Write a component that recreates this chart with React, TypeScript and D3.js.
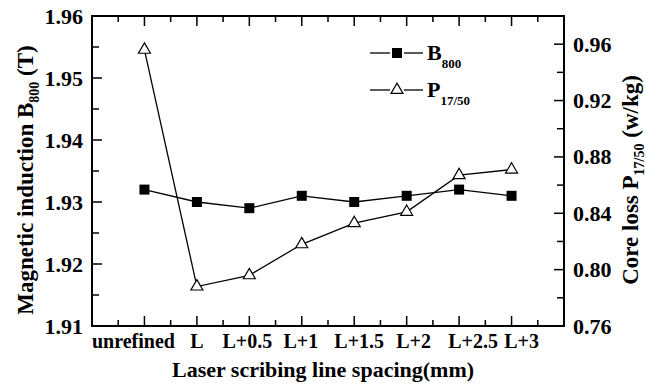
import React, { useRef, useEffect } from "react";
import * as d3 from "d3";

// categories on the x axis
const categories = ["unrefined", "L", "L+0.5", "L+1", "L+1.5", "L+2", "L+2.5", "L+3"];
// magnetic induction B800 (T), left axis
const b800 = [1.932, 1.930, 1.929, 1.931, 1.930, 1.931, 1.932, 1.931];
// core loss P17/50 (w/kg), right axis
const p1750 = [0.956, 0.788, 0.796, 0.818, 0.833, 0.841, 0.867, 0.871];

const leftTicks = [1.91, 1.92, 1.93, 1.94, 1.95, 1.96];
const rightTicks = [0.76, 0.80, 0.84, 0.88, 0.92, 0.96];

// the labels in the original are not centred on their ticks
const labelNudge = [-11, 0, -2, -1, 5, 7, 14, 10];

const W = 646;
const H = 385;
const FONT = "'Liberation Serif', 'Times New Roman', serif";

const App = () => {
  const ref = useRef<SVGSVGElement>(null);

  useEffect(() => {
    if (!ref.current) return;
    const svg = d3.select(ref.current);
    svg.selectAll("*").remove();

    const left = 92, right = 564, top = 16, bottom = 326;

    const x = d3.scaleLinear().domain([-1, 8]).range([left, right]);
    const yL = d3.scaleLinear().domain([1.91, 1.96]).range([bottom, top]);
    const yR = d3.scaleLinear().domain([0.76, 0.98]).range([bottom, top]);

    const g = svg.append("g").attr("font-family", FONT).attr("font-weight", "bold");

    // ticks (inward)
    const xMinor = d3.range(-0.5, 8, 0.5);
    xMinor.forEach(v => {
      const major = Number.isInteger(v) && v >= 0 && v <= 7;
      const len = major ? 10 : 6;
      g.append("line").attr("x1", x(v)).attr("x2", x(v))
        .attr("y1", bottom).attr("y2", bottom - len)
        .attr("stroke", "#000").attr("stroke-width", 1.5);
      g.append("line").attr("x1", x(v)).attr("x2", x(v))
        .attr("y1", top).attr("y2", top + len)
        .attr("stroke", "#000").attr("stroke-width", 1.5);
    });
    d3.range(1.91, 1.9601, 0.005).forEach((v, i) => {
      const len = i % 2 === 0 ? 10 : 7;
      g.append("line").attr("x1", left).attr("x2", left + len)
        .attr("y1", yL(v)).attr("y2", yL(v))
        .attr("stroke", "#000").attr("stroke-width", 1.5);
    });
    d3.range(0.76, 0.9801, 0.02).forEach((v, i) => {
      const len = i % 2 === 0 ? 10 : 7;
      g.append("line").attr("x1", right).attr("x2", right - len)
        .attr("y1", yR(v)).attr("y2", yR(v))
        .attr("stroke", "#000").attr("stroke-width", 1.5);
    });

    // frame
    g.append("rect").attr("x", left).attr("y", top)
      .attr("width", right - left).attr("height", bottom - top)
      .attr("fill", "none").attr("stroke", "#000").attr("stroke-width", 2);

    // tick labels
    g.selectAll(".yl").data(leftTicks).enter().append("text")
      .attr("x", left - 9).attr("y", d => yL(d) + 7.5)
      .attr("text-anchor", "end").attr("font-size", 22)
      .text(d => d3.format(".2f")(d));
    g.selectAll(".yr").data(rightTicks).enter().append("text")
      .attr("x", right + 9).attr("y", d => yR(d) + 7.5)
      .attr("text-anchor", "start").attr("font-size", 22)
      .text(d => d3.format(".2f")(d));
    g.selectAll(".xl").data(categories).enter().append("text")
      .attr("x", (d, i) => x(i) + labelNudge[i]).attr("y", 348)
      .attr("text-anchor", "middle").attr("font-size", 20)
      .text(d => d);

    // axis titles
    g.append("text").attr("x", 323).attr("y", 377)
      .attr("text-anchor", "middle").attr("font-size", 22)
      .text("Laser scribing line spacing(mm)");

    const lt = g.append("text").attr("transform", "translate(33,180) rotate(-90)")
      .attr("text-anchor", "middle").attr("font-size", 23);
    lt.append("tspan").text("Magnetic induction B");
    lt.append("tspan").attr("font-size", 14).attr("dy", 6).text("800");
    lt.append("tspan").attr("dy", -6).text(" (T)");

    const rt = g.append("text").attr("transform", "translate(638,180) rotate(-90)")
      .attr("text-anchor", "middle").attr("font-size", 23);
    rt.append("tspan").text("Core loss P");
    rt.append("tspan").attr("font-size", 14).attr("dy", 6).text("17/50");
    rt.append("tspan").attr("dy", -6).text(" (w/kg)");

    // series
    const lineB = d3.line<number>().x((d, i) => x(i)).y(d => yL(d));
    const lineP = d3.line<number>().x((d, i) => x(i)).y(d => yR(d));
    g.append("path").datum(b800).attr("d", lineB)
      .attr("fill", "none").attr("stroke", "#000").attr("stroke-width", 1.3);
    g.append("path").datum(p1750).attr("d", lineP)
      .attr("fill", "none").attr("stroke", "#000").attr("stroke-width", 1.3);

    const sq = 10;
    const tri = d3.symbol().type(d3.symbolTriangle).size(62);
    g.selectAll(".sq").data(b800).enter().append("rect")
      .attr("x", (d, i) => x(i) - sq / 2).attr("y", d => yL(d) - sq / 2)
      .attr("width", sq).attr("height", sq).attr("fill", "#000");
    g.selectAll(".tri").data(p1750).enter().append("path")
      .attr("d", tri)
      .attr("transform", (d, i) => `translate(${x(i)},${yR(d)})`)
      .attr("fill", "#fff").attr("stroke", "#000").attr("stroke-width", 1.2);

    // legend
    const legend = [
      { name: "B", sub: "800", y: 53 },
      { name: "P", sub: "17/50", y: 90 },
    ];
    legend.forEach((it, k) => {
      g.append("line").attr("x1", 370).attr("x2", 390).attr("y1", it.y).attr("y2", it.y)
        .attr("stroke", "#000").attr("stroke-width", 1.3);
      g.append("line").attr("x1", 404).attr("x2", 423).attr("y1", it.y).attr("y2", it.y)
        .attr("stroke", "#000").attr("stroke-width", 1.3);
      if (k === 0) {
        g.append("rect").attr("x", 397 - sq / 2).attr("y", it.y - sq / 2)
          .attr("width", sq).attr("height", sq).attr("fill", "#000");
      } else {
        g.append("path").attr("d", tri).attr("transform", `translate(397,${it.y})`)
          .attr("fill", "#fff").attr("stroke", "#000").attr("stroke-width", 1.2);
      }
      const t = g.append("text").attr("x", 427).attr("y", it.y + 7).attr("font-size", 22);
      t.append("tspan").text(it.name);
      t.append("tspan").attr("font-size", 13).attr("dy", 8).text(it.sub);
    });
  }, []);

  return (
    <svg ref={ref} width={W} height={H}
      style={{ position: "absolute", left: 0, top: 0, background: "#fff" }} />
  );
};

export default App;
